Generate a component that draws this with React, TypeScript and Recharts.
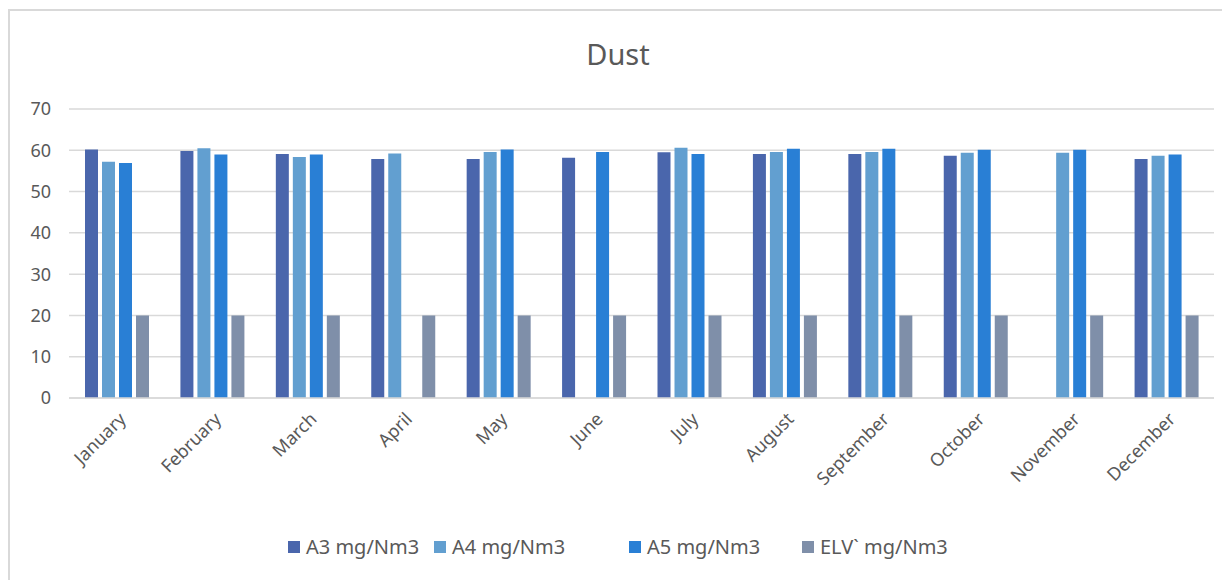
import React from "react";
import { BarChart, Bar, XAxis, YAxis, CartesianGrid } from "recharts";

const months = [
  "January", "February", "March", "April", "May", "June",
  "July", "August", "September", "October", "November", "December",
];
const a3 = [60.2, 59.8, 59.1, 57.9, 57.9, 58.2, 59.5, 59.1, 59.1, 58.7, null, 57.9];
const a4 = [57.2, 60.5, 58.4, 59.2, 59.6, null, 60.6, 59.6, 59.6, 59.4, 59.4, 58.7];
const a5 = [56.9, 59.0, 59.0, null, 60.2, 59.6, 59.1, 60.4, 60.4, 60.1, 60.1, 59.0];
const elv = [20, 20, 20, 20, 20, 20, 20, 20, 20, 20, 20, 20];
const yTicks = [0, 10, 20, 30, 40, 50, 60, 70];

const seriesNames = ["A3 mg/Nm3", "A4 mg/Nm3", "A5 mg/Nm3", "ELV` mg/Nm3"];
const seriesColors = ["#4a66ac", "#629fd0", "#297fd5", "#7f8fa9"];

const data = months.map((m, i) => ({
  month: m,
  a3: a3[i],
  a4: a4[i],
  a5: a5[i],
  elv: elv[i],
}));

const FONT = "'Noto Sans', 'Open Sans', sans-serif";
const TEXT = "#595959";

const MonthTick = (props: any) => {
  const { x, y, payload } = props;
  return (
    <g transform={`translate(${x + 6},${y + 10})`}>
      <text
        x={0}
        y={0}
        dy={6}
        textAnchor="end"
        transform="rotate(-45)"
        fill={TEXT}
        fontSize={18}
        fontFamily={FONT}
      >
        {payload.value}
      </text>
    </g>
  );
};

const legendX = [278, 424, 619, 792];

export default function App() {
  return (
    <div
      style={{
        position: "relative",
        top: 1,
        width: 1216,
        height: 575,
        border: "2px solid #d9d9d9",
        background: "#fff",
        fontFamily: FONT,
      }}
    >
      <div
        style={{
          position: "absolute",
          top: 23,
          left: 0,
          width: "100%",
          textAlign: "center",
          fontSize: 29,
          color: TEXT,
        }}
      >
        Dust
      </div>
      <BarChart
        width={1216}
        height={575}
        data={data}
        margin={{ top: 98, right: 12, bottom: 88, left: 0 }}
        barGap={4}
        barSize={13}
      >
        <CartesianGrid vertical={false} stroke="#d9d9d9" strokeWidth={1.5} />
        <XAxis
          dataKey="month"
          tick={<MonthTick />}
          tickLine={false}
          axisLine={{ stroke: "#d9d9d9", strokeWidth: 1.5 }}
          interval={0}
          height={100}
        />
        <YAxis
          ticks={yTicks}
          domain={[0, 70]}
          width={59}
          tickLine={false}
          axisLine={false}
          tick={{ fill: TEXT, fontSize: 18, fontFamily: FONT }}
          tickMargin={12}
        />
        <Bar dataKey="a3" fill={seriesColors[0]} isAnimationActive={false} />
        <Bar dataKey="a4" fill={seriesColors[1]} isAnimationActive={false} />
        <Bar dataKey="a5" fill={seriesColors[2]} isAnimationActive={false} />
        <Bar dataKey="elv" fill={seriesColors[3]} isAnimationActive={false} />
      </BarChart>
      {seriesNames.map((name, i) => (
        <div
          key={name}
          style={{
            position: "absolute",
            top: 522,
            left: legendX[i],
            display: "flex",
            alignItems: "center",
            fontSize: 20,
            color: TEXT,
            whiteSpace: "nowrap",
          }}
        >
          <span
            style={{
              display: "inline-block",
              width: 12,
              height: 12,
              background: seriesColors[i],
              marginRight: 6,
            }}
          />
          {name}
        </div>
      ))}
    </div>
  );
}
